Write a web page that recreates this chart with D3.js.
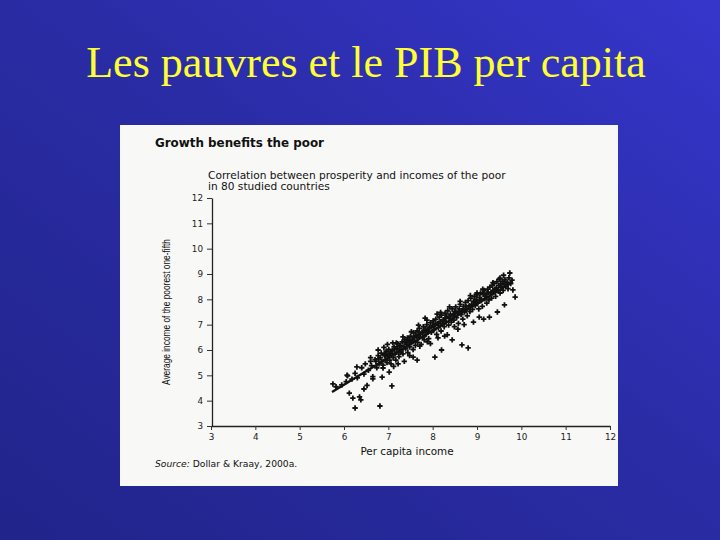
<!DOCTYPE html>
<html><head><meta charset="utf-8">
<script src="https://cdn.jsdelivr.net/npm/d3@7"></script>
<style>html,body{margin:0;padding:0;background:#25288f;}svg{display:block;}</style>
</head><body>
<script>
const slideTitle = "Les pauvres et le PIB per capita";
const chartTitle = "Growth benefits the poor";
const subtitleLines = ["Correlation between prosperity and incomes of the poor", "in 80 studied countries"];
const xLabel = "Per capita income";
const yLabel = "Average income of the poorest one-fifth";
const sourceNote = "Dollar & Kraay, 2000a.";
const xTicks = [3,4,5,6,7,8,9,10,11,12];
const yTicks = [3,4,5,6,7,8,9,10,11,12];

// fitted regression line end points
const fitX = [5.73, 9.81];
const fitY = [4.34, 8.69];

// scatter observations (log per capita income, log income of poorest fifth)
const incomeX = [
 5.75,5.82,5.95,6.05,6.07,6.08,6.12,6.18,6.20,6.25,6.25,6.29,6.30,6.35,6.38,6.40,6.45,6.45,6.48,6.52,6.55,6.60,6.62,6.60,6.65,6.65,6.70,6.81,6.86,6.88,7.02,7.08,7.22,
 6.72,6.74,6.77,6.79,6.82,6.84,6.85,6.88,6.91,6.93,6.95,6.97,6.99,7.01,7.03,7.05,7.06,7.09,7.11,7.13,7.15,7.17,7.19,7.21,7.23,7.24,7.27,7.29,7.31,7.33,7.35,7.37,7.39,
 7.41,7.43,7.44,7.46,7.48,7.50,7.52,7.54,7.56,7.57,7.59,7.61,7.63,7.65,7.66,7.68,7.70,7.72,7.74,7.76,7.78,7.79,7.81,7.83,7.85,7.87,7.89,7.91,7.93,7.95,7.97,7.99,
 8.01,8.03,8.05,8.07,8.09,8.11,8.13,8.15,8.17,8.19,8.20,8.22,8.24,8.26,8.28,8.30,8.32,8.34,8.36,8.38,8.40,8.42,8.44,8.46,8.48,8.50,8.52,8.54,8.56,8.58,8.60,8.62,8.64,8.66,8.68,
 8.70,8.72,8.74,8.76,8.78,8.80,8.82,8.84,8.86,8.88,8.90,8.92,8.94,8.96,8.98,9.00,9.02,9.04,9.06,9.08,9.10,9.12,9.14,9.16,9.18,9.20,9.22,9.24,9.25,9.27,9.29,9.31,9.33,9.35,9.36,
 9.38,9.40,9.42,9.44,9.45,9.47,9.49,9.50,9.52,9.54,9.56,9.58,9.59,9.61,9.63,9.65,9.68,9.70,9.72,9.74,9.76,9.79,9.81,9.86,
 7.56,7.65,7.83,8.05,8.20,8.44,8.66,8.80,7.12,7.36,7.48,7.95,8.12,8.33,8.57,8.92,9.15,7.02,7.18,7.27,7.71,7.88,8.27,8.49,8.71,9.05,9.28,9.46,9.62,
 6.78,6.92,7.06,7.14,7.26,7.38,7.47,7.58,7.69,7.80,7.92,8.02,8.14,8.25,8.37,8.47,8.59,8.69,8.83,8.95,9.07,9.19,9.32,9.43,9.55,9.66,
 6.96,7.20,7.42,7.62,7.84,8.06,8.29,8.52,8.75,8.99,9.21,9.41,
 6.77,6.90,7.10,7.33,7.52,7.87,8.10,8.38,8.62,8.85,9.00,9.13,9.36,9.52,9.60,6.98,7.68,8.18
];
const poorY = [
 4.66,4.55,4.62,4.75,5.01,4.98,4.30,4.85,4.10,5.08,3.71,5.33,4.90,4.15,4.03,5.30,5.05,4.46,5.45,4.60,5.20,5.55,5.38,5.70,4.95,4.86,5.62,3.79,4.93,5.29,5.13,4.58,5.45,
 5.55,5.30,5.78,5.45,5.70,5.88,5.55,5.40,5.82,5.62,5.95,5.50,5.74,6.02,5.60,5.85,5.45,5.98,5.70,6.12,5.84,5.60,6.05,6.25,5.92,5.74,6.18,6.00,6.32,5.85,6.12,6.40,6.05,
 6.22,6.48,5.90,6.35,6.12,6.55,6.28,6.42,6.02,6.68,6.38,6.18,6.55,6.75,6.30,6.48,6.85,6.62,6.22,6.70,6.50,6.92,6.40,6.80,6.62,7.00,6.75,6.45,6.88,7.08,6.70,6.95,
 7.15,6.80,6.98,7.22,6.62,7.05,6.88,7.30,7.12,6.75,7.38,7.02,7.20,6.92,7.45,7.10,7.32,7.55,6.98,7.25,7.42,7.10,7.62,7.35,7.18,7.52,7.70,7.28,7.45,7.05,7.62,7.80,7.40,7.55,7.22,
 7.72,7.50,7.88,7.62,7.35,7.95,7.70,7.52,8.05,7.80,7.60,7.92,8.12,7.75,7.98,8.18,7.85,7.62,8.08,8.25,7.95,7.72,8.20,8.35,8.02,8.12,7.85,8.40,8.28,7.98,8.48,8.22,8.05,8.55,8.35,
 8.62,8.30,8.12,8.45,8.70,8.38,8.55,8.80,8.25,8.62,8.48,8.72,8.35,8.60,8.78,8.50,8.68,8.42,8.85,9.04,8.62,8.76,8.37,8.09,
 5.72,5.60,7.26,5.72,6.00,6.40,6.20,6.08,5.35,5.55,5.78,6.25,6.48,6.60,6.82,7.10,7.22,5.75,6.28,5.90,6.15,6.32,6.55,6.92,7.00,7.30,7.30,7.50,7.78,
 5.65,5.78,5.92,6.02,6.15,6.28,6.36,6.50,6.60,6.72,6.85,6.95,7.06,7.18,7.30,7.40,7.52,7.62,7.75,7.88,8.00,8.12,8.25,8.36,8.48,8.58,
 5.88,6.12,6.35,6.58,6.80,7.02,7.26,7.50,7.72,7.98,8.20,8.40,
 6.00,6.10,6.28,6.52,6.72,7.18,7.42,7.70,7.92,8.15,8.25,8.40,8.66,8.84,8.95,6.22,6.98,7.48
];

const W = 720, H = 540;
const svg = d3.select("body").append("svg").attr("width", W).attr("height", H);

const defs = svg.append("defs");
const grad = defs.append("linearGradient").attr("id","bg")
  .attr("x1","0").attr("y1","1").attr("x2","1").attr("y2","0");
grad.append("stop").attr("offset","0%").attr("stop-color","#21248a");
grad.append("stop").attr("offset","55%").attr("stop-color","#2a2ca6");
grad.append("stop").attr("offset","100%").attr("stop-color","#3636cc");
svg.append("rect").attr("width",W).attr("height",H).attr("fill","url(#bg)");

svg.append("text").attr("x",366).attr("y",77).attr("text-anchor","middle")
  .attr("font-family","'Liberation Serif','Times New Roman',serif").attr("font-size",44)
  .attr("fill","#ffff33").text(slideTitle);

// white scanned panel
svg.append("rect").attr("x",120).attr("y",125).attr("width",498).attr("height",361).attr("fill","#f8f8f6");

const sans = "'DejaVu Sans',Verdana,sans-serif";
const g = svg.append("g");

g.append("text").attr("x",155).attr("y",147).attr("font-family",sans).attr("font-weight","bold")
  .attr("font-size",11.9).attr("fill","#111").text(chartTitle);
subtitleLines.forEach((s,i)=>{
  g.append("text").attr("x",208).attr("y",179+i*10.5).attr("font-family",sans)
    .attr("font-size",10.6).attr("fill","#111").text(s);
});

const x = d3.scaleLinear().domain([3,12]).range([211,610]);
const y = d3.scaleLinear().domain([3,12]).range([426,198]);

const xAxis = g.append("g").attr("transform","translate(0,426)")
  .call(d3.axisBottom(x).tickValues(xTicks).tickSize(4).tickPadding(4).tickSizeOuter(0));
const yAxis = g.append("g").attr("transform","translate(212,0)")
  .call(d3.axisLeft(y).tickValues(yTicks).tickSize(5).tickPadding(4).tickSizeOuter(0));
[xAxis,yAxis].forEach(a=>{
  a.select(".domain").attr("stroke","#222").attr("stroke-width",1.3);
  a.selectAll(".tick line").attr("stroke","#333");
  a.selectAll(".tick text").attr("font-family",sans).attr("font-size",8.8).attr("fill","#222");
});

g.append("text").attr("x",407).attr("y",455).attr("text-anchor","middle").attr("font-family",sans)
  .attr("font-size",10.4).attr("fill","#111").text(xLabel);
g.append("text").attr("transform","translate(170,312) rotate(-90)").attr("text-anchor","middle")
  .attr("font-family","'Liberation Sans Narrow','Liberation Sans',Arial,sans-serif").attr("font-size",10.5)
  .attr("textLength",146).attr("lengthAdjust","spacingAndGlyphs")
  .attr("fill","#111").text(yLabel);

const src = g.append("text").attr("x",155).attr("y",467).attr("font-family",sans)
  .attr("font-size",9.2).attr("fill","#111");
src.append("tspan").attr("font-style","italic").text("Source: ");
src.append("tspan").text(sourceNote);

// regression line
g.append("line").attr("x1",x(fitX[0])).attr("y1",y(fitY[0])).attr("x2",x(fitX[1])).attr("y2",y(fitY[1]))
  .attr("stroke","#111").attr("stroke-width",2.4);

const pts = incomeX.map((v,i)=>[v,poorY[i]]);
g.selectAll("path.pt").data(pts).enter().append("path").attr("class","pt")
  .attr("d", d3.symbol().type(d3.symbolCross).size(16))
  .attr("transform",d=>`translate(${x(d[0])},${y(d[1])})`)
  .attr("fill","#111");
</script>
</body></html>
